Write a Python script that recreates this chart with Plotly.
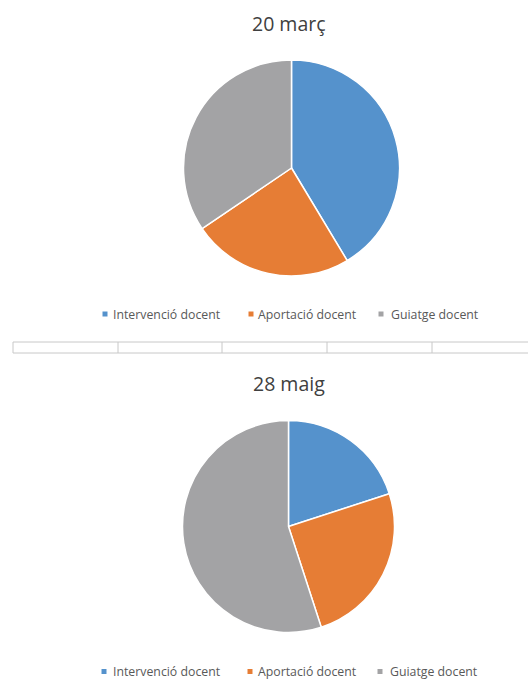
import plotly.graph_objects as go

# Categories and values for the two sessions
categories = ["Intervenció docent", "Aportació docent", "Guiatge docent"]
titles = ["20 març", "28 maig"]
values_marc = [12, 7, 10]
values_maig = [4, 5, 11]

colors = ["#5592CC", "#E67D35", "#A3A3A5"]

W, H = 528, 680


def px(x):
    return x / W


def py(y):
    return 1 - y / H


fig = go.Figure()

# Pie geometry in pixels: (left, top, right, bottom)
boxes = [(183.5, 60, 399.5, 276), (182.5, 420, 394.5, 633)]
series = [values_marc, values_maig]

for vals, (l, t, r, b) in zip(series, boxes):
    fig.add_trace(go.Pie(
        labels=categories,
        values=vals,
        sort=False,
        direction="clockwise",
        rotation=0,
        textinfo="none",
        hoverinfo="label+value+percent",
        marker=dict(colors=colors, line=dict(color="white", width=1.5)),
        domain=dict(x=[px(l), px(r)], y=[py(b), py(t)]),
        showlegend=False,
    ))

annotations = []
shapes = []

# Titles
title_y = [24, 383]
for text, ty in zip(titles, title_y):
    annotations.append(dict(
        text=text, x=px(289), y=py(ty), xref="paper", yref="paper",
        showarrow=False, xanchor="center", yanchor="middle",
        font=dict(family="Open Sans", size=19.5, color="#404040"),
    ))

# Legends under each pie
legend_rows = [
    (314, [105, 251, 381], [112, 257, 390]),
    (671.5, [104, 250, 380], [112, 257, 389]),
]
for ly, sw_x, tx_x in legend_rows:
    for cat, col, sx, tx in zip(categories, colors, sw_x, tx_x):
        shapes.append(dict(
            type="rect", xref="paper", yref="paper",
            x0=px(sx - 2.5), x1=px(sx + 2.5), y0=py(ly + 2.5), y1=py(ly - 2.5),
            fillcolor=col, line=dict(width=0),
        ))
        annotations.append(dict(
            text=cat, x=px(tx), y=py(ly), xref="paper", yref="paper",
            showarrow=False, xanchor="left", yanchor="middle", borderpad=0,
            font=dict(family="Open Sans", size=12.3, color="#595959"),
        ))

# Thin table border strip between the charts
line_col = "#C8C8C8"
for yy in (342, 353):
    shapes.append(dict(type="line", xref="paper", yref="paper",
                       x0=px(13), x1=px(528), y0=py(yy), y1=py(yy),
                       line=dict(color=line_col, width=1)))
for xx in (13, 118, 222, 327, 432):
    shapes.append(dict(type="line", xref="paper", yref="paper",
                       x0=px(xx), x1=px(xx), y0=py(342), y1=py(353),
                       line=dict(color=line_col, width=1)))

fig.update_layout(
    width=W, height=H,
    margin=dict(l=0, r=0, t=0, b=0),
    paper_bgcolor="white",
    plot_bgcolor="white",
    annotations=annotations,
    shapes=shapes,
)

fig.write_html("out.html")
